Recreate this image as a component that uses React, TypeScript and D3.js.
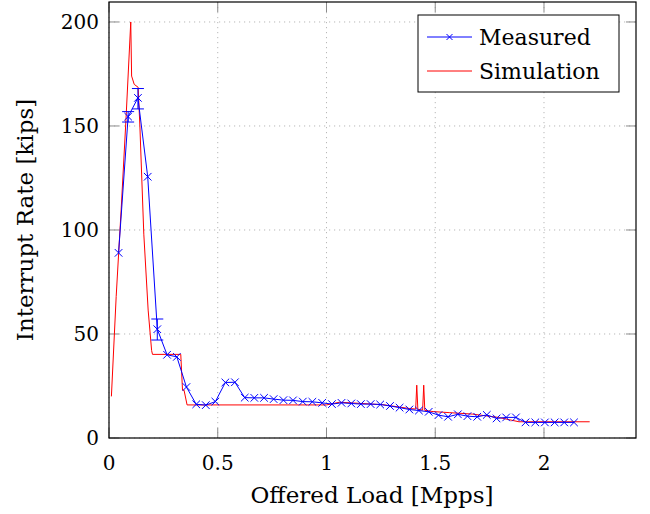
import React from "react";
import * as d3 from "d3";

const measuredX = [0.044, 0.088, 0.133, 0.178, 0.222, 0.267, 0.312, 0.356, 0.401, 0.445, 0.489, 0.535, 0.579, 0.624, 0.668, 0.713, 0.757, 0.802, 0.846, 0.891, 0.935, 0.98, 1.025, 1.069, 1.114, 1.158, 1.203, 1.247, 1.292, 1.336, 1.381, 1.425, 1.47, 1.515, 1.559, 1.604, 1.648, 1.693, 1.737, 1.782, 1.826, 1.871, 1.915, 1.96, 2.004, 2.049, 2.093, 2.138];
const measuredY = [89, 154.5, 163.5, 125.6, 52.3, 40, 39, 24.5, 16.2, 15.8, 17.5, 26.7, 26.8, 19.4, 19.3, 19.3, 18.7, 18.2, 18.1, 17.5, 17.4, 16.9, 16.3, 16.9, 16.6, 16.3, 16.3, 16.1, 15.4, 14.6, 13.7, 13.2, 12.6, 11.0, 10.2, 11.4, 10.5, 10.2, 11.1, 9.4, 9.9, 9.9, 7.5, 7.5, 7.5, 7.5, 7.5, 7.5];
const measuredLow = [89, 151.9, 158.2, 125.6, 47.1, 40, 39, 24.5, 16.2, 15.8, 17.5, 26.7, 26.8, 19.4, 19.3, 19.3, 18.7, 18.2, 18.1, 17.5, 17.4, 16.9, 16.3, 16.9, 16.6, 16.3, 16.3, 16.1, 15.4, 14.6, 13.7, 13.2, 12.6, 11.0, 10.2, 11.4, 10.5, 10.2, 11.1, 9.4, 9.9, 9.9, 7.5, 7.5, 7.5, 7.5, 7.5, 7.5];
const measuredHigh = [89, 156.9, 168, 125.6, 57.2, 40, 39, 24.5, 16.2, 15.8, 17.5, 26.7, 26.8, 19.4, 19.3, 19.3, 18.7, 18.2, 18.1, 17.5, 17.4, 16.9, 16.3, 16.9, 16.6, 16.3, 16.3, 16.1, 15.4, 14.6, 13.7, 13.2, 12.6, 11.0, 10.2, 11.4, 10.5, 10.2, 11.1, 9.4, 9.9, 9.9, 7.5, 7.5, 7.5, 7.5, 7.5, 7.5];

const simX = [0.011, 0.033, 0.056, 0.078, 0.1, 0.104, 0.116, 0.134, 0.142, 0.16, 0.18, 0.196, 0.2, 0.33, 0.338, 0.345, 0.359, 1.0, 1.06, 1.26, 1.38, 1.41, 1.415, 1.42, 1.442, 1.447, 1.452, 1.49, 1.564, 1.67, 1.79, 1.885, 2.21];
const simY = [20, 68, 110, 153, 200, 174, 170, 168.6, 150, 98, 61.5, 42, 40.2, 40.2, 23, 23, 15.9, 15.9, 17.2, 16, 14.2, 13.9, 25.4, 13.8, 13.4, 25.4, 13.3, 12.7, 12.2, 11.5, 9.9, 7.8, 7.8];

const xTicks = [0, 0.5, 1, 1.5, 2];
const xTickLabels = ["0", "0.5", "1", "1.5", "2"];
const yTicks = [0, 50, 100, 150, 200];
const yTickLabels = ["0", "50", "100", "150", "200"];

const seriesNames = ["Measured", "Simulation"];

export default function App() {
  const W = 650, H = 514;
  const left = 109, right = 636, top = 2, bottom = 438;
  const x = d3.scaleLinear().domain([0, 2.423]).range([left, right]);
  const y = d3.scaleLinear().domain([0, 209.6]).range([bottom, top]);
  const font = "'DejaVu Serif', serif";
  const fs = 20;

  const measured = measuredX.map((v, i) => [v, measuredY[i]] as [number, number]);
  const sim = simX.map((v, i) => [v, simY[i]] as [number, number]);
  const line = d3.line<[number, number]>().x(d => x(d[0])).y(d => y(d[1]));

  const cross = (cx: number, cy: number, s: number, key: string) => (
    <path key={key} d={`M${cx - s},${cy - s}L${cx + s},${cy + s}M${cx - s},${cy + s}L${cx + s},${cy - s}`} stroke="#0000ff" strokeWidth={1} fill="none" />
  );

  return (
    <svg width={W} height={H} style={{ position: "absolute", left: 0, top: 0 }}>
      <rect x={0} y={0} width={W} height={H} fill="#fff" />
      {xTicks.map((t, i) => (
        <line key={"gx" + i} x1={x(t)} x2={x(t)} y1={top} y2={bottom} stroke="#b8b8b8" strokeWidth={1} strokeDasharray="1.2 3.8" />
      ))}
      {yTicks.map((t, i) => (
        <line key={"gy" + i} x1={left} x2={right} y1={y(t)} y2={y(t)} stroke="#b8b8b8" strokeWidth={1} strokeDasharray="1.2 3.8" />
      ))}
      {xTicks.map((t, i) => (
        <g key={"tx" + i}>
          <line x1={x(t)} x2={x(t)} y1={bottom} y2={bottom - 10} stroke="#8a8a8a" strokeWidth={1} />
          <line x1={x(t)} x2={x(t)} y1={top} y2={top + 10} stroke="#8a8a8a" strokeWidth={1} />
          <text x={x(t)} y={bottom + 32} fontFamily={font} fontSize={fs} textAnchor="middle">{xTickLabels[i]}</text>
        </g>
      ))}
      {yTicks.map((t, i) => (
        <g key={"ty" + i}>
          <line x1={left} x2={left + 10} y1={y(t)} y2={y(t)} stroke="#8a8a8a" strokeWidth={1} />
          <line x1={right} x2={right - 10} y1={y(t)} y2={y(t)} stroke="#8a8a8a" strokeWidth={1} />
          <text x={left - 10} y={y(t) + 7} fontFamily={font} fontSize={fs} textAnchor="end">{yTickLabels[i]}</text>
        </g>
      ))}
      <path d={line(sim) || ""} fill="none" stroke="#ff0000" strokeWidth={1} />
      <path d={line(measured) || ""} fill="none" stroke="#0000ff" strokeWidth={1} />
      {measured.map((d, i) => {
        const lo = measuredLow[i], hi = measuredHigh[i];
        if (hi - lo < 1) return null;
        const cx = x(d[0]);
        return (
          <g key={"e" + i}>
            <line x1={cx} x2={cx} y1={y(lo)} y2={y(hi)} stroke="#0000ff" strokeWidth={1} />
            <line x1={cx - 6} x2={cx + 6} y1={y(lo)} y2={y(lo)} stroke="#0000ff" strokeWidth={1} />
            <line x1={cx - 6} x2={cx + 6} y1={y(hi)} y2={y(hi)} stroke="#0000ff" strokeWidth={1} />
          </g>
        );
      })}
      {measured.map((d, i) => cross(x(d[0]), y(d[1]), 3.8, "m" + i))}
      <rect x={left} y={top} width={right - left} height={bottom - top} fill="none" stroke="#000" strokeWidth={1.2} />
      <rect x={418} y={15} width={201} height={77} fill="#fff" stroke="#000" strokeWidth={1} />
      <line x1={427} x2={472} y1={37} y2={37} stroke="#0000ff" strokeWidth={1} />
      {cross(449.5, 37, 3, "lg")}
      <text x={479} y={45} fontFamily={font} fontSize={22}>{seriesNames[0]}</text>
      <line x1={427} x2={472} y1={71} y2={71} stroke="#ff0000" strokeWidth={1} />
      <text x={479} y={79} fontFamily={font} fontSize={22}>{seriesNames[1]}</text>
      <text x={372} y={503} fontFamily={font} fontSize={23} textAnchor="middle">Offered Load [Mpps]</text>
      <text transform={`translate(33,${220}) rotate(-90)`} fontFamily={font} fontSize={23} textAnchor="middle">Interrupt Rate [kips]</text>
    </svg>
  );
}
